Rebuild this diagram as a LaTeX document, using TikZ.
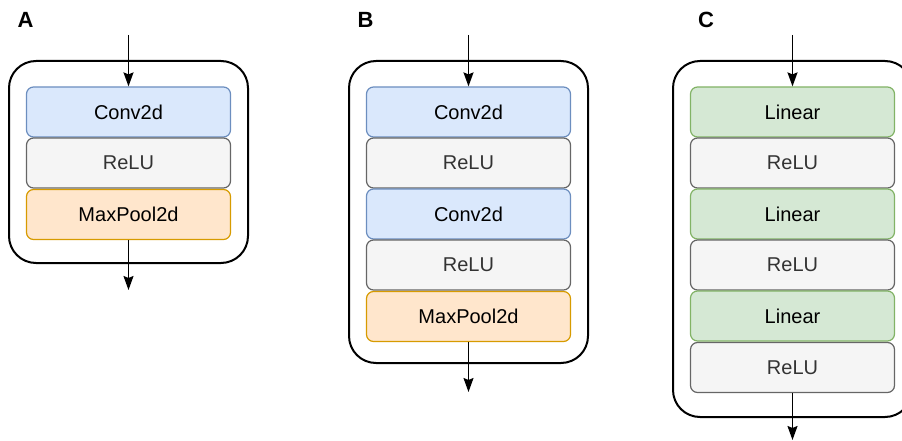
\documentclass[tikz,border=0pt]{standalone}
\usepackage{fontspec}
\setmainfont{Liberation Sans}
\usetikzlibrary{arrows.meta}
\definecolor{convfill}{HTML}{DAE8FC}
\definecolor{convline}{HTML}{6C8EBF}
\definecolor{relufill}{HTML}{F5F5F5}
\definecolor{reluline}{HTML}{666666}
\definecolor{relutext}{HTML}{333333}
\definecolor{poolfill}{HTML}{FFE6CC}
\definecolor{poolline}{HTML}{D79B00}
\definecolor{linfill}{HTML}{D5E8D4}
\definecolor{linline}{HTML}{82B366}
\tikzset{
  layer/.style={rectangle, rounded corners=7pt, minimum width=204pt, minimum height=50pt,
    line width=1.2pt, inner sep=0pt, font=\fontsize{20}{24}\selectfont},
  conv/.style={layer, fill=convfill, draw=convline, text=black},
  relu/.style={layer, fill=relufill, draw=reluline, text=relutext},
  pool/.style={layer, fill=poolfill, draw=poolline, text=black},
  lin/.style={layer, fill=linfill, draw=linline, text=black},
  frame/.style={rectangle, draw=black, line width=2pt, rounded corners=27pt, inner sep=0pt},
  panel/.style={font=\fontsize{22}{26}\selectfont\bfseries},
  arr/.style={line width=1.5pt, -{Stealth[length=14pt, width=10pt, inset=2pt]}}
}
\begin{document}
\begin{tikzpicture}[x=1pt, y=-1pt]
\useasboundingbox (0,0) rectangle (902,441);

% ---- block A ----
\node[panel] (la) at (25.5,20) {A};
\node[frame, minimum width=239pt, minimum height=202pt] (fa) at (128.5,162) {};
\node[conv] (a1) at (128.5,112) {Conv2d};
\node[relu] (a2) at (128.5,163) {ReLU};
\node[pool] (a3) at (128.5,214.5) {MaxPool2d};
\coordinate (ain) at (128.5,35);
\coordinate (aout) at (128.5,290);
\draw[arr] (ain) -- (a1.north);
\draw[arr] (a3.south) -- (aout);

% ---- block B ----
\node[panel] (lb) at (365.5,20) {B};
\node[frame, minimum width=239pt, minimum height=302pt] (fb) at (468.5,212) {};
\node[conv] (b1) at (468.5,112) {Conv2d};
\node[relu] (b2) at (468.5,163) {ReLU};
\node[conv] (b3) at (468.5,214) {Conv2d};
\node[relu] (b4) at (468.5,265) {ReLU};
\node[pool] (b5) at (468.5,316.5) {MaxPool2d};
\coordinate (bin) at (468.5,35);
\coordinate (bout) at (468.5,392);
\draw[arr] (bin) -- (b1.north);
\draw[arr] (b5.south) -- (bout);

% ---- block C ----
\node[panel] (lc) at (706,20) {C};
\node[frame, minimum width=239pt, minimum height=356pt] (fc) at (792.5,239) {};
\node[lin] (c1) at (792.5,112) {Linear};
\node[relu] (c2) at (792.5,163) {ReLU};
\node[lin] (c3) at (792.5,214) {Linear};
\node[relu] (c4) at (792.5,265) {ReLU};
\node[lin] (c5) at (792.5,316) {Linear};
\node[relu] (c6) at (792.5,367.5) {ReLU};
\coordinate (cin) at (792.5,35);
\coordinate (cout) at (792.5,440);
\draw[arr] (cin) -- (c1.north);
\draw[arr] (c6.south) -- (cout);
\end{tikzpicture}
\end{document}
